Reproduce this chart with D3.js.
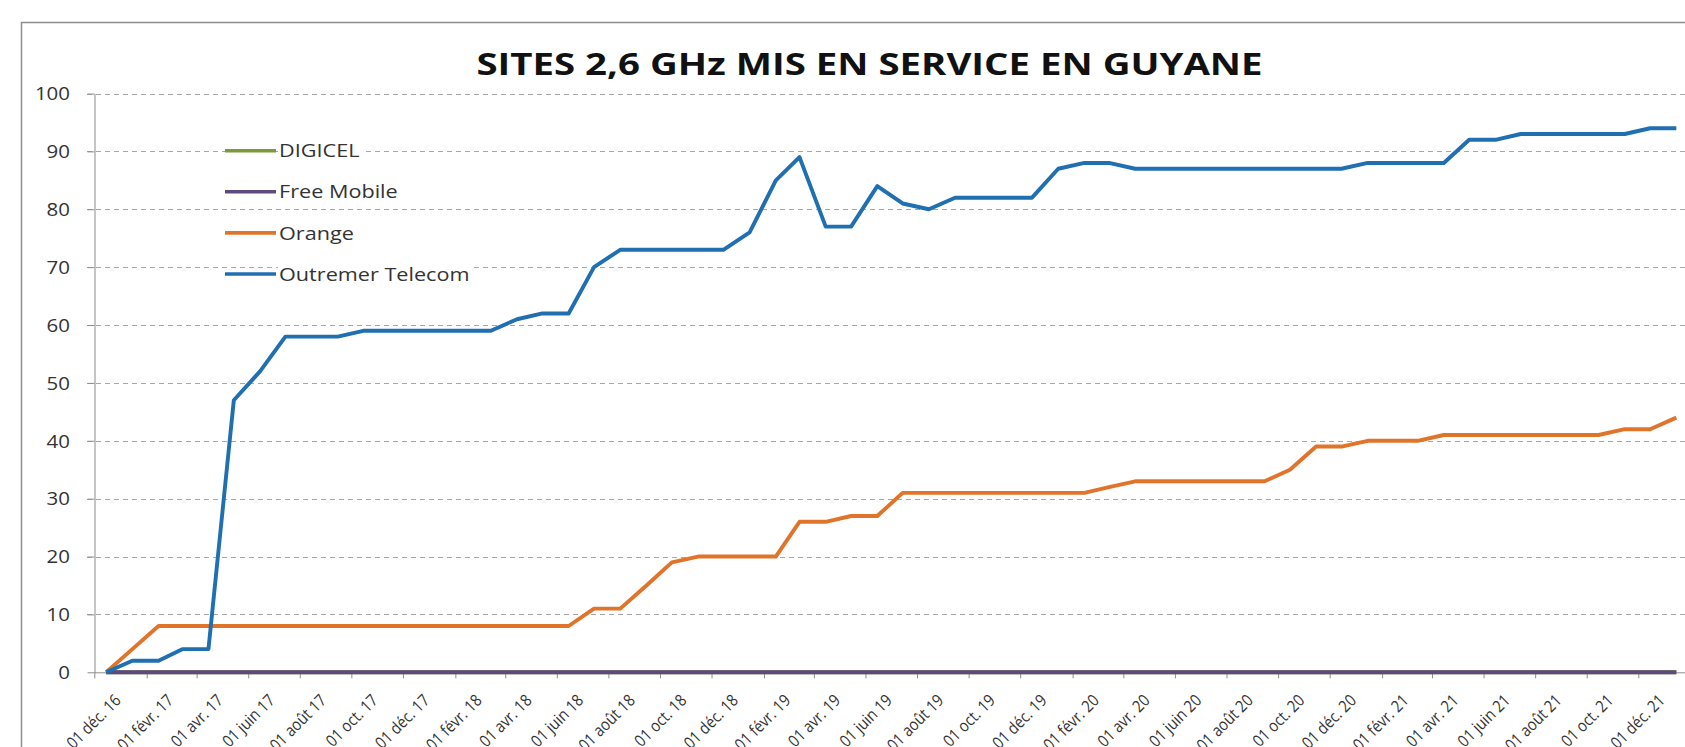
<!DOCTYPE html>
<html>
<head>
<meta charset="utf-8">
<script src="https://d3js.org/d3.v7.min.js"></script>
<style>
  body { margin: 0; background: #fff; }
  svg { display: block; font-family: "Open Sans", sans-serif; }
</style>
</head>
<body>
<div id="chart"></div>
<script>
// monthly readings (mid-month)
var months = [
  "2016-12-15",
  "2017-01-15","2017-02-15","2017-03-15","2017-04-15","2017-05-15","2017-06-15",
  "2017-07-15","2017-08-15","2017-09-15","2017-10-15","2017-11-15","2017-12-15",
  "2018-01-15","2018-02-15","2018-03-15","2018-04-15","2018-05-15","2018-06-15",
  "2018-07-15","2018-08-15","2018-09-15","2018-10-15","2018-11-15","2018-12-15",
  "2019-01-15","2019-02-15","2019-03-15","2019-04-15","2019-05-15","2019-06-15",
  "2019-07-15","2019-08-15","2019-09-15","2019-10-15","2019-11-15","2019-12-15",
  "2020-01-15","2020-02-15","2020-03-15","2020-04-15","2020-05-15","2020-06-15",
  "2020-07-15","2020-08-15","2020-09-15","2020-10-15","2020-11-15","2020-12-15",
  "2021-01-15","2021-02-15","2021-03-15","2021-04-15","2021-05-15","2021-06-15",
  "2021-07-15","2021-08-15","2021-09-15","2021-10-15","2021-11-15","2021-12-15",
  "2022-01-15"
];

var digicel = [
  0,0,0,0,0,0,0,0,0,0, 0,0,0,0,0,0,0,0,0,0, 0,0,0,0,0,0,0,0,0,0,
  0,0,0,0,0,0,0,0,0,0, 0,0,0,0,0,0,0,0,0,0, 0,0,0,0,0,0,0,0,0,0, 0,0
];
var freeMobile = [
  0,0,0,0,0,0,0,0,0,0, 0,0,0,0,0,0,0,0,0,0, 0,0,0,0,0,0,0,0,0,0,
  0,0,0,0,0,0,0,0,0,0, 0,0,0,0,0,0,0,0,0,0, 0,0,0,0,0,0,0,0,0,0, 0,0
];
var orange = [
  0,4,8,8,8,8,8,8,8,8,
  8,8,8,8,8,8,8,8,8,11,
  11,15,19,20,20,20,20,26,26,27,
  27,31,31,31,31,31,31,31,31,32,
  33,33,33,33,33,33,35,39,39,40,
  40,40,41,41,41,41,41,41,41,42,
  42,44
];
var outremer = [
  0,2,2,4,4,47,52,58,58,58,
  59,59,59,59,59,59,61,62,62,70,
  73,73,73,73,73,76,85,89,77,77,
  84,81,80,82,82,82,82,87,88,88,
  87,87,87,87,87,87,87,87,87,88,
  88,88,88,92,92,93,93,93,93,93,
  94,94
];

var seriesNames = ["DIGICEL", "Free Mobile", "Orange", "Outremer Telecom"];
var seriesColors = ["#7b9a3c", "#5e4a7d", "#e0742a", "#1f6fb1"];
var yTicks = [0, 10, 20, 30, 40, 50, 60, 70, 80, 90, 100];
var xTicks = [
  "2016-12-01","2017-02-01","2017-04-01","2017-06-01","2017-08-01","2017-10-01",
  "2017-12-01","2018-02-01","2018-04-01","2018-06-01","2018-08-01","2018-10-01",
  "2018-12-01","2019-02-01","2019-04-01","2019-06-01","2019-08-01","2019-10-01",
  "2019-12-01","2020-02-01","2020-04-01","2020-06-01","2020-08-01","2020-10-01",
  "2020-12-01","2021-02-01","2021-04-01","2021-06-01","2021-08-01","2021-10-01",
  "2021-12-01"
];
var frShortMonths = ["janv.","févr.","mars","avr.","mai","juin","juil.","août","sept.","oct.","nov.","déc."];
var title = "SITES 2,6 GHz MIS EN SERVICE EN GUYANE";

var W = 1685, H = 747;
var sx = 1.17; // the source picture is stretched sideways

var fr = d3.timeFormatLocale({
  dateTime: "%A %e %B %Y à %X", date: "%d/%m/%Y", time: "%H:%M:%S",
  periods: ["AM", "PM"],
  days: ["dimanche","lundi","mardi","mercredi","jeudi","vendredi","samedi"],
  shortDays: ["dim.","lun.","mar.","mer.","jeu.","ven.","sam."],
  months: ["janvier","février","mars","avril","mai","juin","juillet","août","septembre","octobre","novembre","décembre"],
  shortMonths: frShortMonths
});
var parse = d3.timeParse("%Y-%m-%d");

var svg = d3.select("#chart").append("svg").attr("width", W).attr("height", H);

// chart frame
svg.append("rect")
  .attr("x", 21.5).attr("y", 22.5)
  .attr("width", W + 10).attr("height", H + 10)
  .attr("fill", "#fff").attr("stroke", "#8c8c8c").attr("stroke-width", 1.5);

var x = d3.scaleTime()
  .domain([parse("2016-12-01"), parse("2021-12-01")])
  .range([94.3, 1638.3]);
x.domain([x.domain()[0], x.invert(W + 5)]).range([94.3, W + 5]);
var y = d3.scaleLinear().domain([0, 100]).range([672.3, 93.5]);

// gridlines
svg.append("g").selectAll("line")
  .data(yTicks.filter(function (d) { return d > 0; }))
  .enter().append("line")
  .attr("x1", 87).attr("x2", W)
  .attr("y1", function (d) { return Math.round(y(d)) + 0.5; })
  .attr("y2", function (d) { return Math.round(y(d)) + 0.5; })
  .attr("stroke", "#a8a8a8").attr("stroke-dasharray", "5,4");

// y axis
var yAxis = svg.append("g")
  .attr("transform", "translate(94.5,0)")
  .call(d3.axisLeft(y).tickValues(yTicks).tickSize(7).tickSizeOuter(0));
yAxis.select(".domain").attr("stroke", "#8c8c8c");
yAxis.selectAll(".tick line").attr("stroke", "#8c8c8c");
yAxis.selectAll(".tick text")
  .attr("x", null).attr("dy", "0.36em")
  .attr("transform", "translate(-24.5,0) scale(" + sx + ",1)")
  .attr("fill", "#333").style("font-size", "17.5px").style("font-family", "Open Sans");

// x axis
var xAxis = svg.append("g")
  .attr("transform", "translate(0," + y(0) + ")")
  .call(d3.axisBottom(x).tickValues(xTicks.map(parse)).tickSize(6).tickSizeOuter(0)
    .tickFormat(fr.format("%d %b %y")));
xAxis.select(".domain").attr("stroke", "#8c8c8c");
xAxis.selectAll(".tick line").attr("stroke", "#8c8c8c");
xAxis.selectAll(".tick text")
  .attr("y", null).attr("dy", "0.35em")
  .attr("text-anchor", "end")
  .attr("transform", "translate(23,25) rotate(-45) scale(0.88,1)")
  .attr("fill", "#333").style("font-size", "16.5px").style("font-family", "Open Sans");

// lines
var seriesValues = [digicel, freeMobile, orange, outremer];
var dates = months.map(parse);
var line = d3.line()
  .x(function (d, i) { return x(dates[i]); })
  .y(function (d) { return y(d); });

svg.append("g").selectAll("path")
  .data(seriesValues)
  .enter().append("path")
  .attr("d", line)
  .attr("fill", "none")
  .attr("stroke", function (d, i) { return seriesColors[i]; })
  .attr("stroke-width", 3.9)
  .attr("stroke-linejoin", "round");

// legend
var legend = svg.append("g").attr("transform", "translate(225,150.7)");
var item = legend.selectAll("g").data(seriesNames).enter().append("g")
  .attr("transform", function (d, i) { return "translate(0," + (i * 41.1) + ")"; });
item.append("rect").attr("class", "bg");
item.append("line")
  .attr("x1", 0).attr("x2", 51).attr("y1", 0).attr("y2", 0)
  .attr("stroke", function (d, i) { return seriesColors[i]; })
  .attr("stroke-width", 3.6);
item.append("text")
  .attr("dy", "0.36em")
  .attr("transform", "translate(54,0) scale(" + sx + ",1)")
  .attr("fill", "#333").style("font-size", "18.5px")
  .text(function (d) { return d; });
item.each(function () {
  var g = d3.select(this);
  var b = g.select("text").node().getBBox();
  g.select("rect.bg")
    .attr("x", 53).attr("y", b.y - 1)
    .attr("width", b.width * sx + 4).attr("height", b.height + 2)
    .attr("fill", "#fff");
});

// title
svg.append("text")
  .attr("transform", "translate(869.5,75) scale(1.28,1)")
  .attr("text-anchor", "middle")
  .attr("fill", "#111").style("font-size", "30px").style("font-weight", "bold")
  .text(title);
</script>
</body>
</html>
